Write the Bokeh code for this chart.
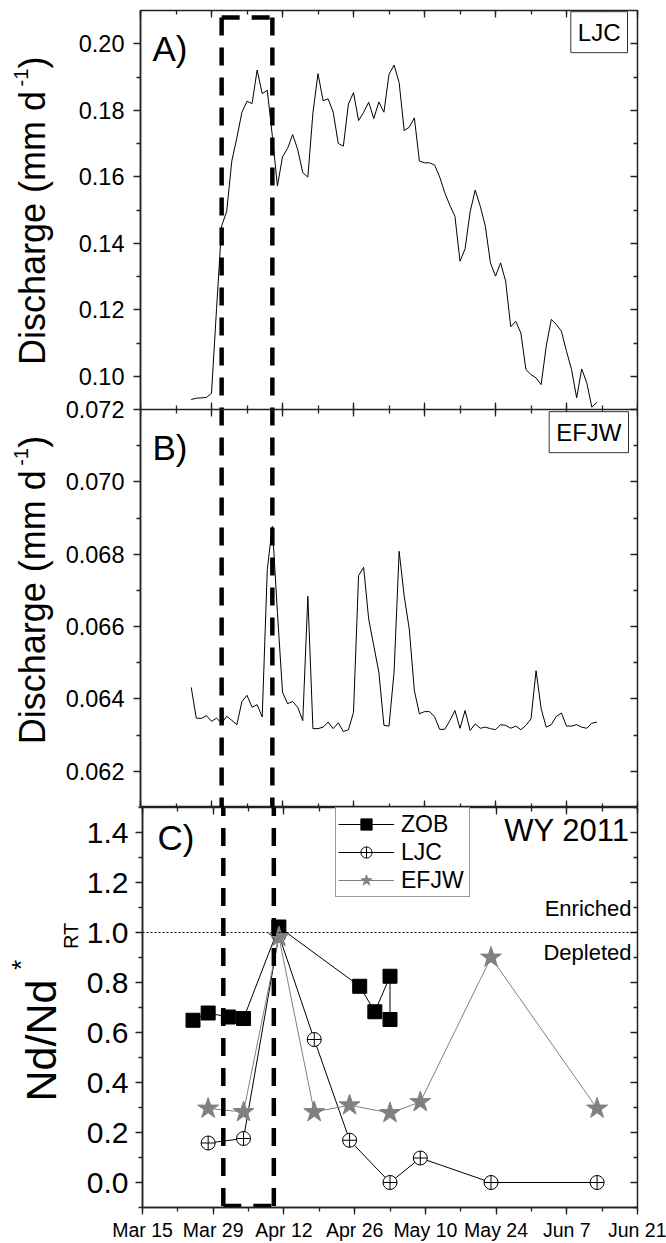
import pandas as pd
from bokeh.plotting import figure
from bokeh.layouts import column, row
from bokeh.models import (Range1d, LinearAxis, DatetimeAxis, FixedTicker, PrintfTickFormatter,
                          DatetimeTickFormatter, Label, Span, Legend, LegendItem)
from bokeh.embed import file_html
from bokeh.resources import INLINE

FONT = "Liberation Sans"

# ---------------- data ----------------
q_start = "2011-03-25"  # first daily discharge value
ljc_q = [0.0930, 0.0934, 0.0935, 0.0936, 0.0949, 0.1204, 0.1452, 0.1496, 0.1647, 0.1717,
         0.1794, 0.1827, 0.1820, 0.1921, 0.1850, 0.1860, 0.1722, 0.1572, 0.1660, 0.1685,
         0.1727, 0.1682, 0.1612, 0.1599, 0.1792, 0.1910, 0.1829, 0.1834, 0.1794, 0.1700,
         0.1692, 0.1819, 0.1853, 0.1769, 0.1794, 0.1824, 0.1775, 0.1825, 0.1794, 0.1908,
         0.1936, 0.1883, 0.1739, 0.1749, 0.1777, 0.1647, 0.1642, 0.1642, 0.1635, 0.1599,
         0.1552, 0.1514, 0.1481, 0.1346, 0.1383, 0.1495, 0.1560, 0.1511, 0.1451, 0.1341,
         0.1301, 0.1341, 0.1286, 0.1149, 0.1165, 0.1130, 0.1020, 0.1005, 0.0995, 0.0975,
         0.1090, 0.1171, 0.1156, 0.1135, 0.1075, 0.1020, 0.0935, 0.1022, 0.0980, 0.0907,
         0.0922]
efjw_q = [0.06432, 0.06347, 0.06346, 0.06354, 0.06338, 0.06347, 0.06333, 0.06352, 0.06341, 0.06329,
          0.06393, 0.06410, 0.06377, 0.06384, 0.06350, 0.06758, 0.06877, 0.06639, 0.06419, 0.06387,
          0.06393, 0.06377, 0.06340, 0.06684, 0.06318, 0.06318, 0.06322, 0.06336, 0.06318, 0.06334,
          0.06310, 0.06315, 0.06363, 0.06741, 0.06764, 0.06620, 0.06547, 0.06474, 0.06327, 0.06325,
          0.06474, 0.06808, 0.06684, 0.06593, 0.06423, 0.06359, 0.06365, 0.06365, 0.06350, 0.06316,
          0.06316, 0.06340, 0.06368, 0.06319, 0.06368, 0.06313, 0.06331, 0.06319, 0.06322, 0.06318,
          0.06315, 0.06329, 0.06327, 0.06319, 0.06325, 0.06315, 0.06327, 0.06345, 0.06478, 0.06373,
          0.06322, 0.06329, 0.06352, 0.06361, 0.06325, 0.06325, 0.06329, 0.06322, 0.06319, 0.06333,
          0.06336]
q_dates = pd.date_range(q_start, periods=len(ljc_q), freq="D")

zob_dates = ["2011-03-25", "2011-03-28", "2011-04-01", "2011-04-04", "2011-04-11",
             "2011-04-27", "2011-04-30", "2011-05-03", "2011-05-03"]
zob_nd = [0.649, 0.678, 0.662, 0.656, 1.022, 0.785, 0.683, 0.825, 0.652]
ljc_dates = ["2011-03-28", "2011-04-04", "2011-04-11", "2011-04-18", "2011-04-25",
             "2011-05-03", "2011-05-09", "2011-05-23", "2011-06-13"]
ljc_nd = [0.158, 0.176, 0.99, 0.572, 0.169, 0.0, 0.098, 0.0, 0.0]
efjw_dates = ["2011-03-28", "2011-04-04", "2011-04-11", "2011-04-18", "2011-04-25",
              "2011-05-03", "2011-05-09", "2011-05-23", "2011-06-13"]
efjw_nd = [0.296, 0.282, 0.982, 0.282, 0.309, 0.278, 0.322, 0.900, 0.296]

# sampling window (dashed box)
box_dates = ["2011-03-31", "2011-04-10"]
box_top_a = 0.2079
box_bottom_c = -0.094

x_limits = ["2011-03-15", "2011-06-21"]
ya_limits = (0.09, 0.21)
yb_limits = (0.061, 0.072)
yc_limits = (-0.1, 1.5)
ya_ticks = [0.10, 0.12, 0.14, 0.16, 0.18, 0.20]
ya_minor = [0.11, 0.13, 0.15, 0.17, 0.19]
yb_ticks = [0.062, 0.064, 0.066, 0.068, 0.070, 0.072]
yb_labels = ["0.062", "0.064", "0.066", "0.068", "0.070", "0.072"]
yb_minor = [0.061, 0.063, 0.065, 0.067, 0.069, 0.071]
yc_ticks = [0.0, 0.2, 0.4, 0.6, 0.8, 1.0, 1.2, 1.4]
yc_minor = [-0.1, 0.1, 0.3, 0.5, 0.7, 0.9, 1.1, 1.3, 1.5]

# panel heights in pixels (layout)
H_A, H_B, H_C = 399, 398, 400

# ---------------- helpers ----------------
def ms(s):
    return pd.Timestamp(s).value // 10**6

x_major = [ms(t) for t in pd.date_range(x_limits[0], x_limits[1], freq="14D")]
x_minor = [ms(t) for t in pd.date_range(x_limits[0], x_limits[1], freq="7D")]
xr = Range1d(start=pd.Timestamp(x_limits[0]), end=pd.Timestamp(x_limits[1]))


def xticker():
    return FixedTicker(ticks=x_major, minor_ticks=x_minor)


def style(ax, tin, tout, mtin, mtout, size="0px", standoff=0, line=True, labels=True):
    ax.major_tick_in = tin
    ax.major_tick_out = tout
    ax.minor_tick_in = mtin
    ax.minor_tick_out = mtout
    ax.major_tick_line_width = 1.3
    ax.minor_tick_line_width = 1.3
    ax.major_tick_line_color = "#222222"
    ax.minor_tick_line_color = "#222222"
    ax.major_label_text_font = FONT
    ax.major_label_text_font_size = size
    ax.major_label_text_color = "black" if labels else None
    ax.major_label_standoff = standoff
    ax.axis_line_color = "#222222" if line else None
    ax.axis_line_width = 1.5
    return ax


def base_fig(width, height, left, top, bottom, y_range, **kw):
    p = figure(width=width, height=height, x_range=xr, y_range=y_range,
               x_axis_type="datetime", x_axis_location=None, y_axis_location=None,
               output_backend="svg", toolbar_location=None,
               min_border_left=left, min_border_right=29,
               min_border_top=top, min_border_bottom=bottom, **kw)
    p.xgrid.visible = False
    p.ygrid.visible = False
    p.outline_line_color = "#222222"
    p.outline_line_width = 1.5
    p.background_fill_color = "white"
    p.border_fill_color = "white"
    return p


def label_fig(width, height, top, bottom):
    p = figure(width=width, height=height, x_range=Range1d(0, 1), y_range=Range1d(0, 1),
               x_axis_location=None, y_axis_location=None,
               output_backend="svg", toolbar_location=None,
               min_border_left=0, min_border_right=0, min_border_top=top, min_border_bottom=bottom)
    p.xgrid.visible = False
    p.ygrid.visible = False
    p.outline_line_color = None
    p.background_fill_color = "white"
    p.border_fill_color = "white"
    return p


def text(p, x, y, s, size, align="left", baseline="middle", angle=0.0, **kw):
    lab = Label(x=x, y=y, x_units="screen", y_units="screen", text=s,
                text_font=FONT, text_font_size=size, text_color="black",
                text_align=align, text_baseline=baseline, angle=angle, **kw)
    p.add_layout(lab)
    return lab


ROT = 1.5707963267948966
bx = pd.to_datetime(box_dates)
DASH = dict(line_color="black", line_width=4.5, line_dash="18 12", line_cap="butt")
BOXED = dict(border_line_color="#333333", border_line_width=1,
             background_fill_color="white", padding=7)

# ---------------- panels A + B (one canvas, two y scales) ----------------
ya_span = ya_limits[1] - ya_limits[0]
yb_span = yb_limits[1] - yb_limits[0]
a_start = ya_limits[1] - ya_span * (H_A + H_B) / H_A
range_a = Range1d(a_start, ya_limits[1])
range_b = Range1d(yb_limits[0], yb_limits[1] + yb_span * H_A / H_B)


def b_on_a(v):
    # position of a panel-B tick expressed on the shared left (panel-A) axis
    return a_start + (v - yb_limits[0]) / yb_span * H_B * ya_span / H_A


left_ticks = ya_ticks + [b_on_a(v) for v in yb_ticks]
left_minor = ya_minor + [b_on_a(v) for v in yb_minor]
overrides = {b_on_a(v): s for v, s in zip(yb_ticks, yb_labels)}

pab = base_fig(604, 10 + H_A + H_B, 78, 10, 0, range_a, extra_y_ranges={"B": range_b})
p = pab
left_ab = LinearAxis(ticker=FixedTicker(ticks=left_ticks, minor_ticks=left_minor),
                     formatter=PrintfTickFormatter(format="%.2f"),
                     major_label_overrides=overrides)
p.add_layout(style(left_ab, 0, 7, 0, 4, "23.5px", 9), "left")
p.add_layout(style(LinearAxis(ticker=FixedTicker(ticks=left_ticks, minor_ticks=left_minor)),
                   7, 0, 4, 0, line=False, labels=False), "right")
p.add_layout(style(DatetimeAxis(ticker=xticker()), 7, 0, 4, 0, line=False, labels=False), "above")
p.add_layout(style(DatetimeAxis(ticker=xticker(), fixed_location=ya_limits[0]),
                   7, 7, 4, 4, labels=False), "below")
p.add_layout(style(DatetimeAxis(ticker=xticker()), 7, 0, 4, 0, line=False, labels=False), "below")

p.line(q_dates, ljc_q, line_color="black", line_width=1)
p.line(q_dates, efjw_q, line_color="black", line_width=1, y_range_name="B")
p.segment(x0=[bx[0], bx[1], bx[0]], y0=[box_top_a, box_top_a, box_top_a],
          x1=[bx[0], bx[1], bx[1]], y1=[-0.1, -0.1, box_top_a], **DASH)

text(p, 12, 759.5, "A)", "35px")
text(p, 487, 775.3, "LJC", "24px", align="right", **BOXED)
text(p, 12, 360.5, "B)", "35px")
text(p, 488, 375.3, "EFJW", "24px", align="right", **BOXED)

lab_ab = label_fig(62, 10 + H_A + H_B, 10, 0)
text(lab_ab, 32.4, 442.5, "Discharge (mm d", "36px", angle=ROT)
text(lab_ab, 20, 721, "-1", "20px", angle=ROT)
text(lab_ab, 32.4, 739, ")", "36px", angle=ROT)
text(lab_ab, 32.4, 63.2, "Discharge (mm d", "36px", angle=ROT)
text(lab_ab, 20, 341.7, "-1", "20px", angle=ROT)
text(lab_ab, 32.4, 359.7, ")", "36px", angle=ROT)

# ---------------- panel C ----------------
pc = base_fig(583, H_C + 36, 57, 0, 36, Range1d(*yc_limits))
pc.add_layout(style(LinearAxis(ticker=FixedTicker(ticks=yc_ticks, minor_ticks=yc_minor),
                               formatter=PrintfTickFormatter(format="%.1f")),
                    0, 7, 0, 4, "30px", 7), "left")
pc.add_layout(style(LinearAxis(ticker=FixedTicker(ticks=yc_ticks, minor_ticks=yc_minor)),
                    7, 0, 4, 0, line=False, labels=False), "right")
pc.add_layout(style(DatetimeAxis(ticker=xticker()), 7, 0, 4, 0, line=False, labels=False), "above")
bot = style(DatetimeAxis(ticker=xticker()), 0, 7, 0, 4, "19.5px", 4)
bot.formatter = DatetimeTickFormatter(days="%b %-d", months="%b %-d", years="%b %-d")
pc.add_layout(bot, "below")

pc.add_layout(Span(location=1.0, dimension="width", line_color="black",
                   line_width=1, line_dash="2 2"))
ljc_x = pd.to_datetime(ljc_dates)
zob_x = pd.to_datetime(zob_dates)
efjw_x = pd.to_datetime(efjw_dates)
l_line = pc.line(ljc_x, ljc_nd, line_color="black", line_width=1)
l_mark = pc.scatter(ljc_x, ljc_nd, marker="circle_cross", size=14,
                    fill_color="white", line_color="black", line_width=1)
z_line = pc.line(zob_x, zob_nd, line_color="black", line_width=1)
z_mark = pc.scatter(zob_x, zob_nd, marker="square", size=14,
                    fill_color="black", line_color="black")
e_line = pc.line(efjw_x, efjw_nd, line_color="#808080", line_width=1)
e_mark = pc.scatter(efjw_x, efjw_nd, marker="star", size=22,
                    fill_color="#808080", line_color="#808080")
pc.segment(x0=[bx[0], bx[1], bx[0]], y0=[box_bottom_c, box_bottom_c, box_bottom_c],
           x1=[bx[0], bx[1], bx[1]], y1=[1.7, 1.7, box_bottom_c], **DASH)

legend = Legend(items=[LegendItem(label="ZOB", renderers=[z_line, z_mark]),
                       LegendItem(label="LJC", renderers=[l_line, l_mark]),
                       LegendItem(label="EFJW", renderers=[e_line, e_mark])],
                location=(193, 310), orientation="vertical",
                border_line_color="#333333", border_line_width=1,
                background_fill_color="white", background_fill_alpha=1,
                label_text_font=FONT, label_text_font_size="23px", label_text_color="black",
                glyph_width=56, glyph_height=28, label_height=28, label_width=66,
                spacing=0, padding=2, margin=0, label_standoff=7)
pc.add_layout(legend)

text(pc, 15, 370, "C)", "35px")
text(pc, 487, 376.6, "WY 2011", "31px", align="right")
text(pc, 489, 299.5, "Enriched", "22px", align="right")
text(pc, 489, 255.3, "Depleted", "22px", align="right")

lab_c = label_fig(83, H_C + 36, 0, 36)
text(lab_c, 40, 106, "Nd/Nd", "43px", angle=ROT)
text(lab_c, 20.9, 237.5, "*", "26px", angle=ROT)
text(lab_c, 70.5, 258.5, "RT", "20px", angle=ROT)

layout = column(row(lab_ab, pab, spacing=0), row(lab_c, pc, spacing=0), spacing=0)
open("out.html", "w").write(file_html(layout, INLINE))
